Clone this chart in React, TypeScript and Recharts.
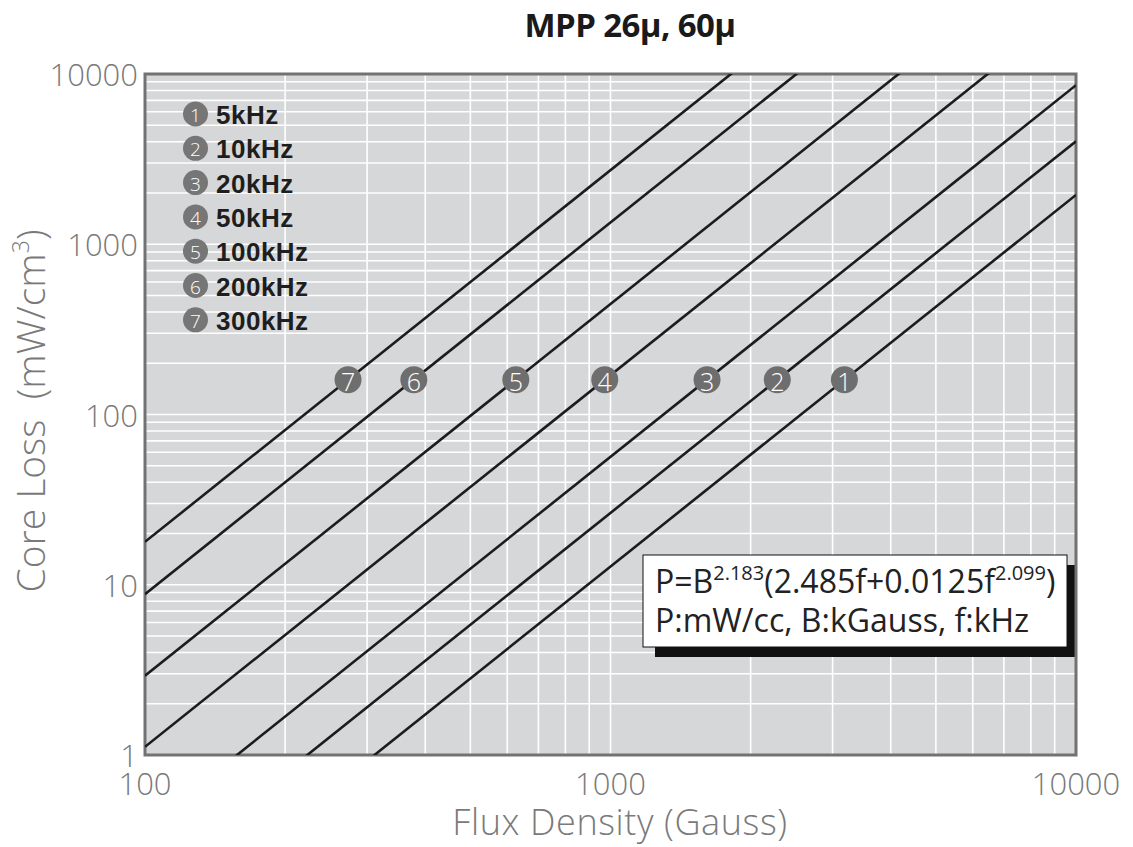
import React from 'react';
import {
  ComposedChart,
  Line,
  Scatter,
  XAxis,
  YAxis,
  CartesianGrid,
  ReferenceArea,
  Customized,
} from 'recharts';

// Flux density (Gauss) at the two ends of each loss line
const fluxEnds = [100, 10000];

// Core loss (mW/cm³) at those flux values, one array per frequency
const loss5kHz = [0.0839, 1949];
const loss10kHz = [0.1733, 4026];
const loss20kHz = [0.3702, 8598];
const loss50kHz = [1.117, 25954];
const loss100kHz = [2.924, 67925];
const loss200kHz = [8.81, 204521];
const loss300kHz = [17.87, 415138];

const seriesNames = ['5kHz', '10kHz', '20kHz', '50kHz', '100kHz', '200kHz', '300kHz'];
const seriesLoss = [loss5kHz, loss10kHz, loss20kHz, loss50kHz, loss100kHz, loss200kHz, loss300kHz];

// Numbered tags sitting on each line
const markerFlux = [3180, 2282, 1612, 972, 626, 378, 273];
const markerLoss = [160, 160, 160, 160, 160, 160, 160];

// Axis ticks and log grid
const fluxTicks = [100, 1000, 10000];
const lossTicks = [1, 10, 100, 1000, 10000];
const fluxGrid = [
  100, 200, 300, 400, 500, 600, 700, 800, 900,
  1000, 2000, 3000, 4000, 5000, 6000, 7000, 8000, 9000, 10000,
];
const lossGrid = [
  1, 2, 3, 4, 5, 6, 7, 8, 9,
  10, 20, 30, 40, 50, 60, 70, 80, 90,
  100, 200, 300, 400, 500, 600, 700, 800, 900,
  1000, 2000, 3000, 4000, 5000, 6000, 7000, 8000, 9000, 10000,
];

const lineData = seriesLoss.map((vals) =>
  fluxEnds.map((flux, i) => ({ flux, loss: vals[i] }))
);
const markerData = markerFlux.map((flux, i) => ({ flux, loss: markerLoss[i], n: i + 1 }));

const LIGHT_FONT = '"Open Sans", Lato, sans-serif';
const GREY_TEXT = '#7a7a7a';

const XTick = (props: any) => {
  const { x, y, payload } = props;
  return (
    <text x={x} y={y} textAnchor="middle" dominantBaseline="central" fill={GREY_TEXT} fontSize={31} fontWeight={300} fontFamily={LIGHT_FONT}>
      {payload.value}
    </text>
  );
};

const YTick = (props: any) => {
  const { x, y, payload } = props;
  return (
    <text x={x} y={y} textAnchor="end" dominantBaseline="central" fill={GREY_TEXT} fontSize={31} fontWeight={300} fontFamily={LIGHT_FONT}>
      {payload.value}
    </text>
  );
};

const TagShape = (props: any) => {
  const { cx, cy, payload } = props;
  return (
    <g>
      <circle cx={cx} cy={cy} r={13.5} fill="#6e6e6e" />
      <text x={cx} y={cy + 1} textAnchor="middle" dominantBaseline="central" fill="#fff" fontSize={25} fontWeight={300} fontFamily={LIGHT_FONT}>
        {payload.n}
      </text>
    </g>
  );
};

const LegendBlock = () => (
  <g>
    {seriesNames.map((name, i) => {
      const cy = 114 + i * 34.3;
      return (
        <g key={name}>
          <circle cx={195.5} cy={cy} r={12.5} fill="#767676" />
          <text x={195.5} y={cy + 1} textAnchor="middle" dominantBaseline="central" fill="#fff" fontSize={19} fontWeight={300} fontFamily={LIGHT_FONT}>
            {i + 1}
          </text>
          <text x={216} y={cy + 1} dominantBaseline="central" fill="#1e1e1e" fontSize={26} fontWeight={700} letterSpacing={0.5} fontFamily='"Liberation Sans", Arial, sans-serif'>
            {name}
          </text>
        </g>
      );
    })}
  </g>
);

const FormulaBox = () => (
  <g fontFamily={LIGHT_FONT} fill="#222">
    <rect x={655} y={565} width={422} height={92} fill="#111" />
    <rect x={643} y={555} width={424} height={92} fill="#fff" stroke="#111" strokeWidth={1} />
    <text x={655} y={593} fontSize={32}>
      P=B
      <tspan dy={-13} fontSize={20}>2.183</tspan>
      <tspan dy={13} fontSize={32}>(2.485f+0.0125f</tspan>
      <tspan dy={-13} fontSize={20}>2.099</tspan>
      <tspan dy={13} fontSize={32}>)</tspan>
    </text>
    <text x={655} y={632} fontSize={32}>P:mW/cc, B:kGauss, f:kHz</text>
  </g>
);

const Titles = () => (
  <g>
    <text x={630} y={37} textAnchor="middle" fontSize={33} fontWeight={700} fill="#1a1a1a" fontFamily='"Open Sans", sans-serif' letterSpacing={-0.6}>
      MPP 26µ, 60µ
    </text>
    <text x={620} y={835} textAnchor="middle" fontSize={36} fontWeight={300} letterSpacing={0.6} fill={GREY_TEXT} fontFamily={LIGHT_FONT}>
      Flux Density (Gauss)
    </text>
    <text
      transform="translate(45,411) rotate(-90)"
      textAnchor="middle"
      fontSize={39}
      fontWeight={300}
      fill={GREY_TEXT}
      fontFamily={LIGHT_FONT}
      style={{ whiteSpace: 'pre' }}
    >
      {'Core Loss  (mW/cm'}
      <tspan dy={-16} fontSize={23}>3</tspan>
      <tspan dy={16} fontSize={39}>)</tspan>
    </text>
  </g>
);

export default function App() {
  return (
    <div style={{ position: 'absolute', left: 0, top: 0, width: 1133, height: 847, background: '#fff' }}>
      <ComposedChart width={1133} height={847} margin={{ top: 74, right: 57, bottom: 32, left: 45 }}>
        <CartesianGrid
          fill="#d6d7d9"
          fillOpacity={1}
          stroke="#ffffff"
          strokeWidth={1.6}
          horizontalValues={lossGrid}
          verticalValues={fluxGrid}
        />
        <XAxis
          dataKey="flux"
          type="number"
          scale="log"
          domain={[100, 10000]}
          allowDataOverflow
          ticks={fluxTicks}
          tick={<XTick />}
          tickSize={0}
          tickMargin={28}
          axisLine={false}
          tickLine={false}
          height={60}
          interval={0}
        />
        <YAxis
          dataKey="loss"
          type="number"
          scale="log"
          domain={[1, 10000]}
          allowDataOverflow
          ticks={lossTicks}
          tick={<YTick />}
          tickSize={0}
          tickMargin={7}
          axisLine={false}
          tickLine={false}
          width={100}
          interval={0}
        />
        {lineData.map((d, i) => (
          <Line
            key={seriesNames[i]}
            data={d}
            dataKey="loss"
            type="linear"
            stroke="#1c1c1c"
            strokeWidth={2.6}
            dot={false}
            activeDot={false}
            isAnimationActive={false}
          />
        ))}
        <ReferenceArea
          x1={100}
          x2={10000}
          y1={1}
          y2={10000}
          fill="none"
          stroke="#727272"
          strokeWidth={3}
          ifOverflow="visible"
        />
        <Scatter data={markerData} dataKey="loss" shape={<TagShape />} isAnimationActive={false} />
        <Customized component={<LegendBlock />} />
        <Customized component={<FormulaBox />} />
        <Customized component={<Titles />} />
      </ComposedChart>
    </div>
  );
}
